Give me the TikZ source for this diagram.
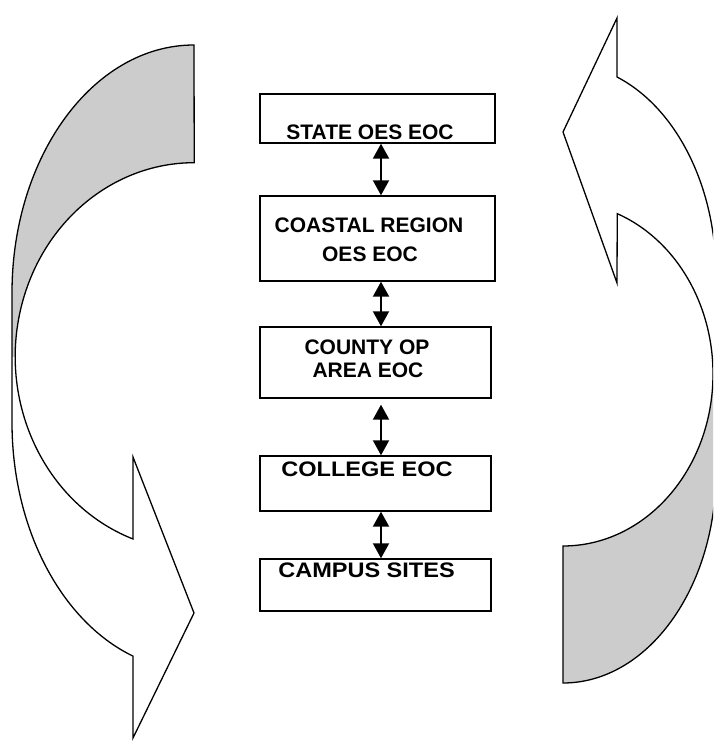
\documentclass[tikz,border=0pt]{standalone}
\usepackage{fontspec}
\usepackage{graphicx}
\setmainfont{Liberation Sans}
\usetikzlibrary{arrows.meta}
\begin{document}
\begin{tikzpicture}[x=1pt,y=1pt,
  shapeoutline/.style={draw=black, line width=1.3pt, line join=miter},
  bandfill/.style={fill=black!20},
  box/.style={draw=black, line width=1.4pt, rectangle, inner sep=0pt},
  lbl/.style={font=\fontsize{21}{25}\selectfont\bfseries, anchor=base, inner sep=0pt},
  dbl/.style={line width=2pt, {Triangle[length=15pt,width=16pt]}-{Triangle[length=15pt,width=16pt]}}]
\useasboundingbox (0,0) rectangle (713,741);
\clip (0,0) rectangle (713,741);

% left curved arrow: shaded back band
\path[bandfill] (194,696) arc[start angle=90,end angle=180,x radius=182,y radius=248]
  -- (12,384) -- (15,384) arc[start angle=180,end angle=90,x radius=179,y radius=194] -- cycle;
% left curved arrow: outline
\draw[shapeoutline] (194,696) arc[start angle=90,end angle=180,x radius=182,y radius=248]
  -- (12,318.5) arc[start angle=180,end angle=250.4,x radius=182,y radius=248]
  -- (133,3) -- (194,128) -- (133,284) -- (133,202)
  arc[start angle=250,end angle=90,x radius=179,y radius=194] -- cycle;

% right curved arrow: shaded back band
\path[bandfill] (563,58) arc[start angle=-90,end angle=0,x radius=153,y radius=211]
  -- (716,367) -- (713,367) arc[start angle=0,end angle=-90,x radius=150,y radius=172] -- cycle;
% right curved arrow: outline
\draw[shapeoutline] (563,195) arc[start angle=-90,end angle=68.8,x radius=150,y radius=172]
  -- (617,458) -- (563,609) -- (617,723) -- (617,664)
  arc[start angle=69.3,end angle=0,x radius=153,y radius=211]
  -- (716,269) arc[start angle=0,end angle=-90,x radius=153,y radius=211] -- cycle;

% boxes
\node[box, minimum width=235pt, minimum height=49pt] (b1) at (377.5,622.5) {};
\node[box, minimum width=235pt, minimum height=85pt] (b2) at (377.5,502.5) {};
\node[box, minimum width=231pt, minimum height=71pt] (b3) at (375.5,378.5) {};
\node[box, minimum width=231pt, minimum height=55pt] (b4) at (375.5,257.5) {};
\node[box, minimum width=231pt, minimum height=52pt] (b5) at (375.5,156) {};

% labels
\node[lbl] (t1) at (370,601) {STATE OES EOC};
\node[lbl] (t2a) at (369,508) {COASTAL REGION};
\node[lbl] (t2b) at (370,479) {OES EOC};
\node[lbl] (t3a) at (367,386) {COUNTY OP};
\node[lbl] (t3b) at (368,363) {AREA EOC};
\node[lbl] (t4) at (367,264) {\scalebox{1.12}[1]{COLLEGE EOC}};
\node[lbl] (t5) at (366.5,163) {\scalebox{1.12}[1]{CAMPUS SITES}};

% connectors
\coordinate (ax) at (381,0);
\draw[dbl] (b1.south -| ax) -- (b2.north -| ax);
\draw[dbl] (b2.south -| ax) -- (b3.north -| ax);
\draw[dbl, shorten <=6pt] (b3.south -| ax) -- (b4.north -| ax);
\draw[dbl] (b4.south -| ax) -- (b5.north -| ax);
\end{tikzpicture}
\end{document}
